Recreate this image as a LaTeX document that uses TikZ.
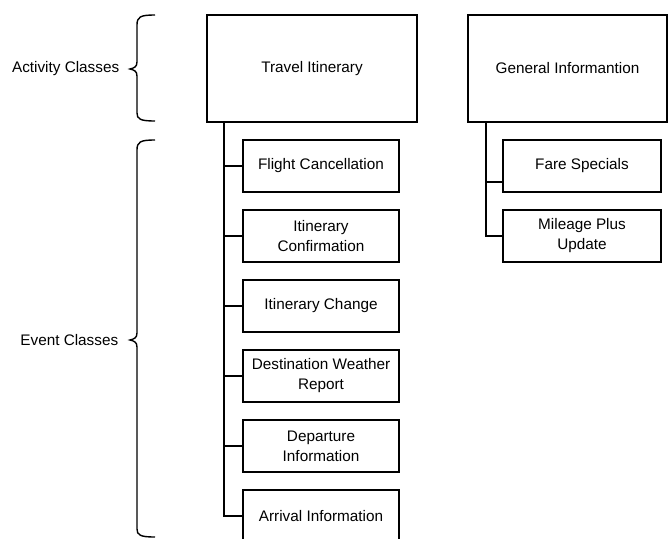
\documentclass[tikz,border=0pt]{standalone}
\usepackage{fontspec}
\setmainfont{Liberation Sans}
\begin{document}
\begin{tikzpicture}[x=1pt,y=-1pt,line width=1.6pt,
  every node/.style={font=\fontsize{15.3}{20}\selectfont},
  bigbox/.style={draw,rectangle,minimum height=107pt,inner sep=0pt},
  subbox/.style={draw,rectangle,minimum width=156pt,minimum height=52pt,align=center,inner sep=0pt},
  gsubbox/.style={subbox,minimum width=158pt},
  lbl/.style={anchor=east,inner sep=0pt}]
\clip (0,0) rectangle (668,538);
\fill[white] (0,0) rectangle (668,538);
% top boxes
\node[bigbox,minimum width=210pt] (TI) at (312,68.5) {Travel Itinerary};
\node[bigbox,minimum width=199pt] (GI) at (567.5,68.5) {General Informantion};
% event boxes
\node[subbox] (FC) at (321,166) {Flight Cancellation};
\node[subbox] (IC) at (321,236) {Itinerary\\Confirmation};
\node[subbox] (ICh) at (321,306) {Itinerary Change};
\node[subbox] (DW) at (321,376) {Destination Weather\\Report};
\node[subbox] (DI) at (321,446) {Departure\\Information};
\node[subbox] (AI) at (321,516) {Arrival Information};
\node[gsubbox] (FS) at (582,166) {Fare Specials};
\node[gsubbox] (MP) at (582,236) {Mileage Plus\\Update};
% connectors
\coordinate (tt) at ([xshift=18pt]TI.south west);
\draw (tt) |- (AI.west);
\foreach \n in {FC,IC,ICh,DW,DI} \draw (tt |- \n.west) -- (\n.west);
\coordinate (gt) at ([xshift=19pt]GI.south west);
\coordinate (fsin) at ([yshift=-16pt]FS.west);
\draw (gt) |- (MP.west);
\draw (gt |- fsin) -- (fsin);
% braces
\coordinate (ab1) at (155,15);
\coordinate (ab2) at (155,121);
\coordinate (atip) at (130,69);
\draw[line width=1.4pt] (ab1) .. controls (140,15) and (137,17) .. (137,25) -- (137,62)
  .. controls (137,67) and (134,68) .. (atip) .. controls (134,70) and (137,71) .. (137,76)
  -- (137,113) .. controls (137,119) and (140,121) .. (ab2);
\coordinate (eb1) at (155,140);
\coordinate (eb2) at (155,537);
\coordinate (etip) at (130,340);
\draw[line width=1.4pt] (eb1) .. controls (140,140) and (137,142) .. (137,150) -- (137,333)
  .. controls (137,338) and (134,339) .. (etip) .. controls (134,341) and (137,342) .. (137,347)
  -- (137,529) .. controls (137,535) and (140,537) .. (eb2);
\node[lbl] (AC) at (120,69) {Activity Classes};
\node[lbl] (EC) at (119,340) {Event Classes};
\end{tikzpicture}
\end{document}
